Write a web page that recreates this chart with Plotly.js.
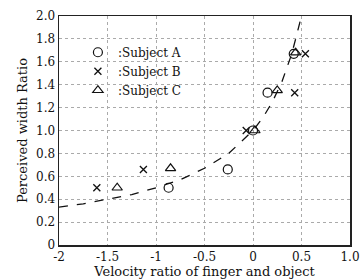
<!DOCTYPE html>
<html><head><meta charset="utf-8">
<script src="https://cdn.plot.ly/plotly-3.0.1.min.js"></script>
<style>body{margin:0;background:#fff}#c{width:361px;height:280px}</style>
</head><body><div id="c"></div>
<script>
const subjANames = ":Subject A", subjBNames = ":Subject B", subjCNames = ":Subject C";
const aX = [-0.87, -0.26, 0.0, 0.15, 0.42];
const aY = [0.50, 0.66, 1.00, 1.33, 1.67];
const bX = [-1.61, -1.13, -0.07, 0.43, 0.54];
const bY = [0.50, 0.66, 1.00, 1.33, 1.67];
const cX = [-1.40, -0.85, 0.02, 0.25, 0.44];
const cY = [0.50, 0.67, 1.00, 1.35, 1.68];
const fitX = [-2.0, -1.75, -1.5, -1.25, -1.0, -0.75, -0.5, -0.25, 0.0, 0.1, 0.2, 0.3, 0.4, 0.5];
const fitY = [0.33, 0.36, 0.40, 0.44, 0.50, 0.57, 0.67, 0.80, 1.00, 1.11, 1.25, 1.43, 1.67, 2.00];
const xTicks = [-2, -1.5, -1, -0.5, 0, 0.5, 1.0];
const xTickText = ["-2", "-1.5", "-1", "-0.5", "0", "0.5", "1.0"];
const yTicks = [0, 0.2, 0.4, 0.6, 0.8, 1.0, 1.2, 1.4, 1.6, 1.8, 2.0];
const yTickText = ["0", "0.2", "0.4", "0.6", "0.8", "1.0", "1.2", "1.4", "1.6", "1.8", "2.0"];

const F = "DejaVu Serif";
const mk = (sym) => ({symbol: sym, size: 9, color: "#111", line: {color: "#111", width: 1.2}});
const traces = [
  {x: fitX, y: fitY, mode: "lines", line: {color: "#111", width: 1.3, dash: "dash"}, showlegend: false, hoverinfo: "skip"},
  {x: aX, y: aY, mode: "markers", name: subjANames, marker: mk("circle-open")},
  {x: bX, y: bY, mode: "markers", name: subjBNames, marker: {symbol: "x-thin-open", size: 7, color: "#111", line: {color: "#111", width: 1.3}}},
  {x: cX, y: cY, mode: "markers", name: subjCNames, marker: mk("triangle-up-open")}
];
const axisCommon = {showline: true, mirror: true, linecolor: "#222", linewidth: 1.5, zeroline: false,
  showgrid: true, gridcolor: "#aaa", griddash: "dot", gridwidth: 1, ticks: "", tickfont: {family: F, size: 12, color: "#111"}};
const layout = {
  width: 361, height: 280,
  margin: {l: 59, r: 11, t: 16, b: 35},
  paper_bgcolor: "#fff", plot_bgcolor: "#fff",
  font: {family: F, color: "#111"},
  xaxis: Object.assign({}, axisCommon, {range: [-2, 1.0], tickvals: xTicks, ticktext: xTickText,
    title: {text: "Velocity ratio of finger and object", font: {family: F, size: 13}, standoff: 3}}),
  yaxis: Object.assign({}, axisCommon, {range: [0, 2.0], tickvals: yTicks, ticktext: yTickText,
    title: {text: "Perceived width Ratio", font: {family: F, size: 13}, standoff: 5}}),
  legend: {x: 0.065, y: 0.905, xanchor: "left", yanchor: "top", bgcolor: "rgba(0,0,0,0)",
    font: {family: F, size: 12, color: "#111"}, itemwidth: 30, tracegroupgap: 0},
  showlegend: true
};
Plotly.newPlot("c", traces, layout, {displayModeBar: false, staticPlot: true});
</script></body></html>
